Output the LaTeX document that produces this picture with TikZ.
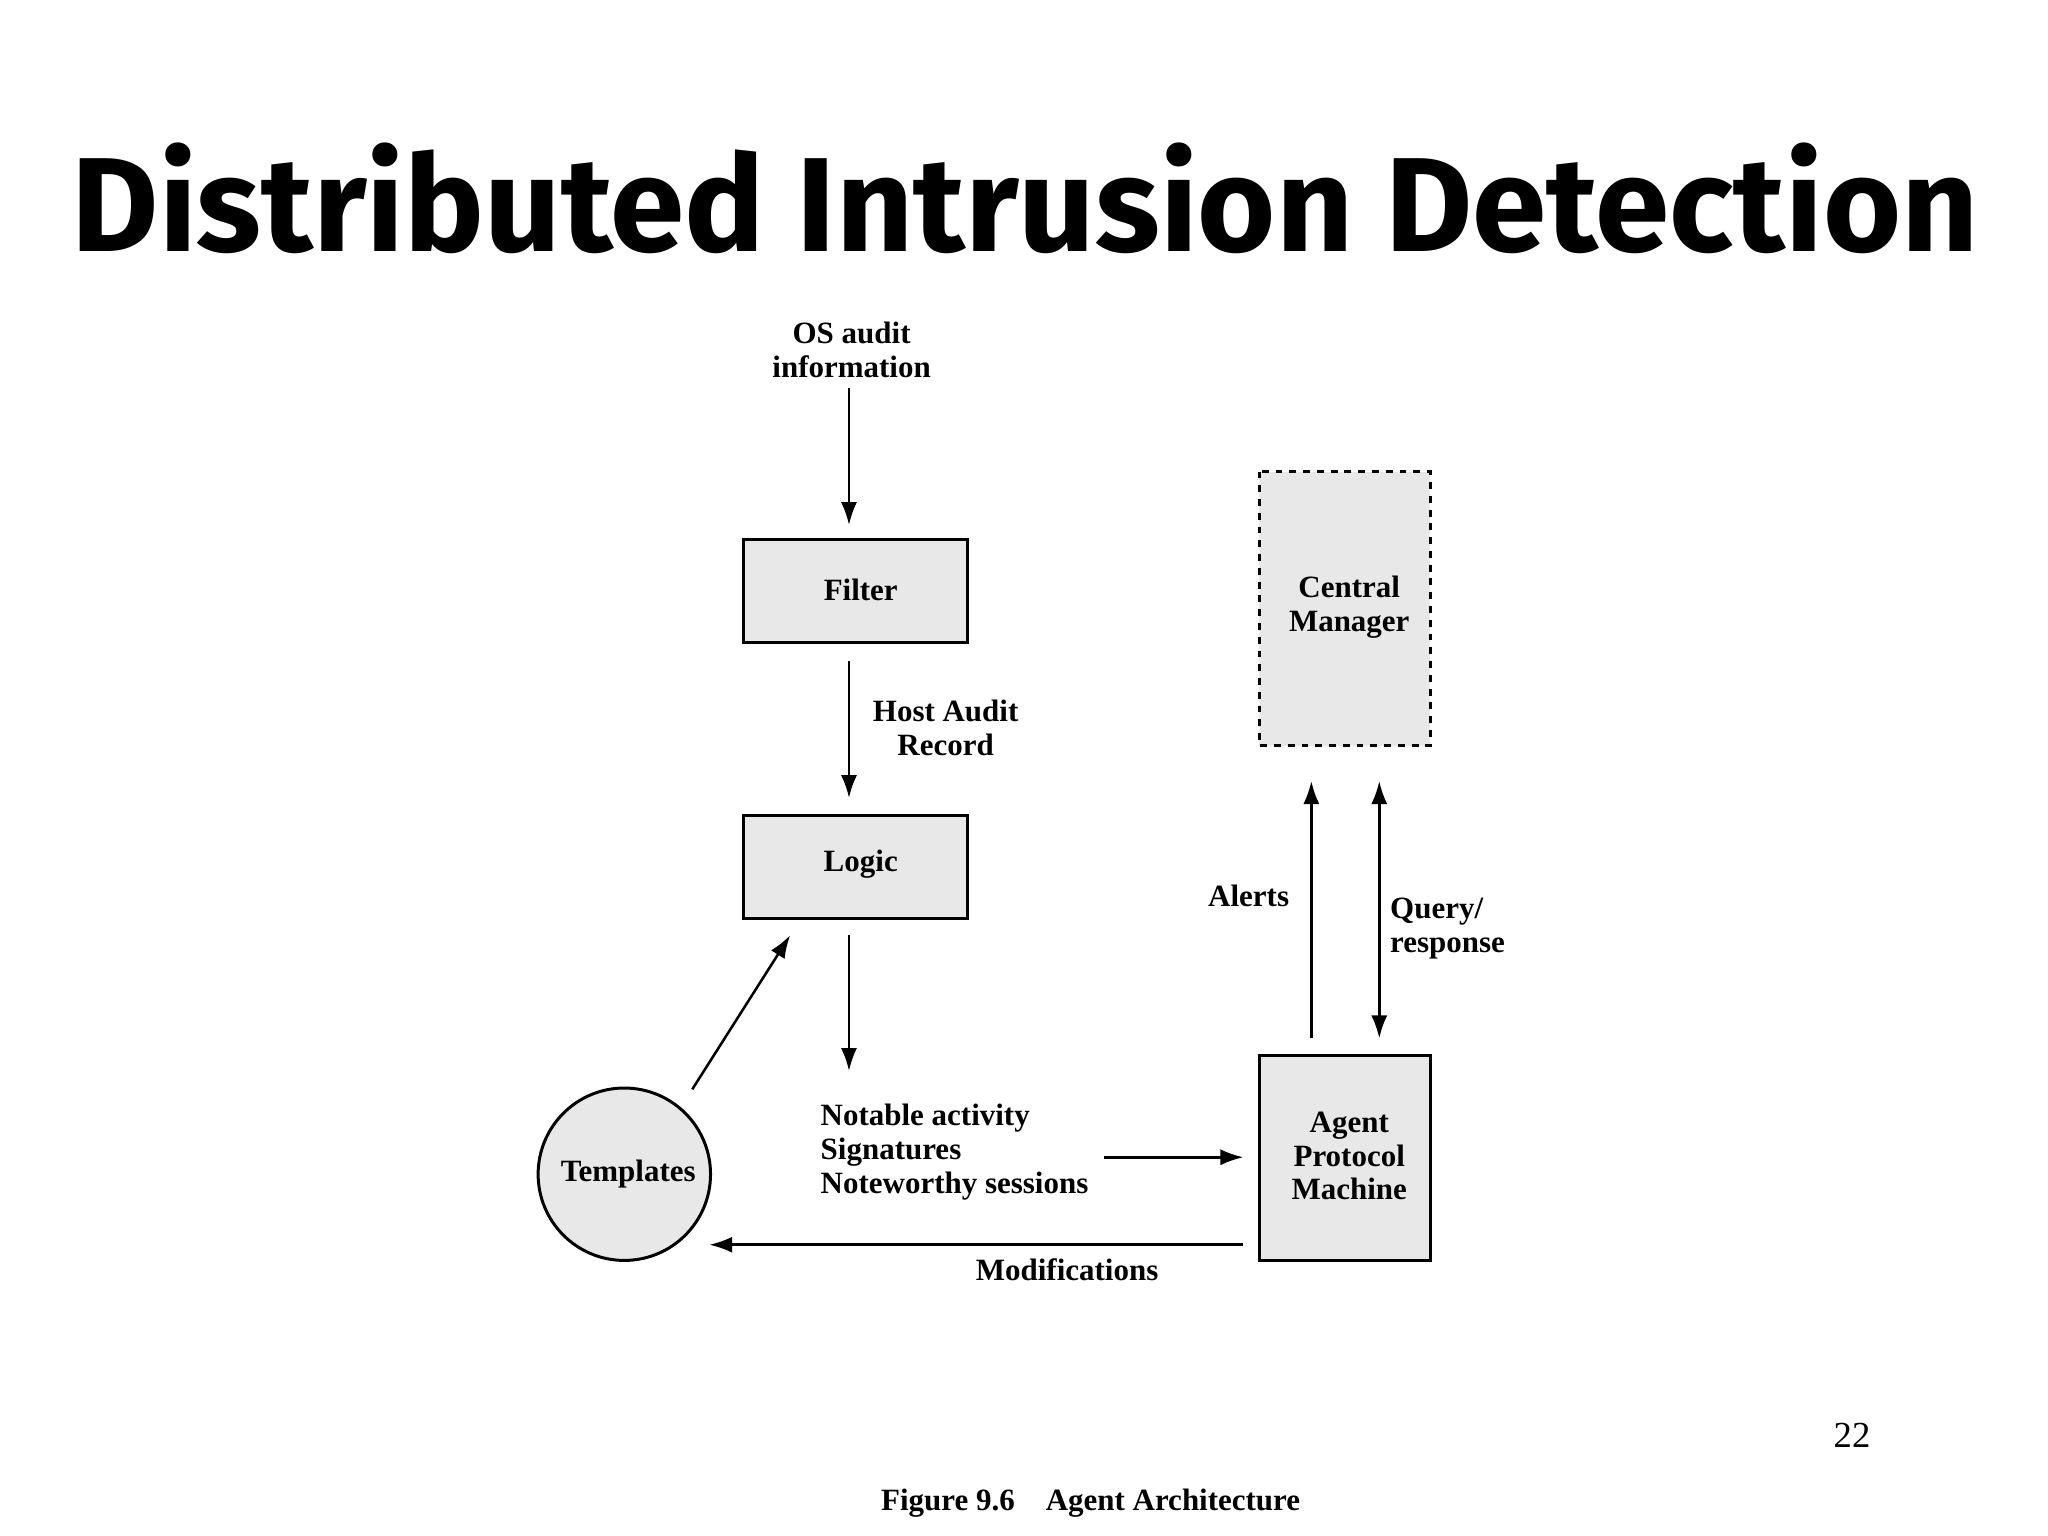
\documentclass[tikz,border=0pt]{standalone}
\usepackage{fontspec}
\setmainfont{Liberation Serif}
\newfontfamily\titlefont{Fira Sans}
\usetikzlibrary{arrows.meta}
\begin{document}
\begin{tikzpicture}[x=0.02cm,y=-0.02cm,
  box/.style={draw,line width=1.3pt,fill=gray!18},
  lbl/.style={font=\fontsize{13.5}{14.8}\selectfont\bfseries,align=center,inner sep=0pt},
  arr/.style={-{Latex[length=10pt,width=7pt]},line width=1.1pt}]
\useasboundingbox (0,0) rectangle (1568,1176);
\node[inner sep=0pt] (title) at (785,152) {\resizebox{29.2cm}{!}{\titlefont\bfseries Distributed Intrusion Detection}};
\node[lbl] (os) at (652,268) {OS audit\\information};
\coordinate (osb) at (650,297);
\draw[box] (569,413) rectangle (741,492);
\node[lbl] (filter) at (659,452) {Filter};
\draw[box] (569,624) rectangle (741,703);
\node[lbl] (logic) at (659,662) {Logic};
\draw[box] (964,808) rectangle (1095,965);
\node[lbl] (agent) at (1033,885) {Agent\\Protocol\\Machine};
\draw[box,dashed] (964,361) rectangle (1095,571);
\node[lbl] (cm) at (1033,465) {Central\\Manager};
\draw[line width=1.3pt,fill=gray!18] (478,899) circle (66);
\node[lbl] (tmp) at (481,899) {Templates};
\coordinate (a1) at (650,402); \draw[arr] (osb) -- (a1);
\coordinate (b0) at (650,506); \coordinate (b1) at (650,611); \draw[arr] (b0) -- (b1);
\node[lbl] (har) at (724,557) {Host Audit\\Record};
\coordinate (c0) at (650,716); \coordinate (c1) at (650,820); \draw[arr] (c0) -- (c1);
\coordinate (d0) at (530,834); \coordinate (d1) at (605,716); \draw[arr] (d0) -- (d1);
\node[lbl,align=left,anchor=north west] (notable) at (628,845) {Notable activity\\Signatures\\Noteworthy sessions};
\coordinate (e0) at (845,886); \coordinate (e1) at (952,886); \draw[arr] (e0) -- (e1);
\coordinate (f0) at (952,953); \coordinate (f1) at (543,953); \draw[arr] (f0) -- (f1);
\node[lbl] (mod) at (817,972) {Modifications};
\coordinate (g0) at (1004,795); \coordinate (g1) at (1004,598); \draw[arr] (g0) -- (g1);
\node[lbl] (alerts) at (956,686) {Alerts};
\coordinate (h0) at (1056,598); \coordinate (h1) at (1056,795);
\draw[{Latex[length=10pt,width=7pt]}-{Latex[length=10pt,width=7pt]},line width=1.1pt] (h0) -- (h1);
\node[lbl,align=left,anchor=west] (q) at (1064,711) {Query/\\response};
\node[font=\fontsize{16}{18}\selectfont,inner sep=0pt] (pg) at (1418,1099) {22};
\node[lbl] (cap) at (835,1151) {Figure 9.6\quad Agent Architecture};
\end{tikzpicture}
\end{document}
